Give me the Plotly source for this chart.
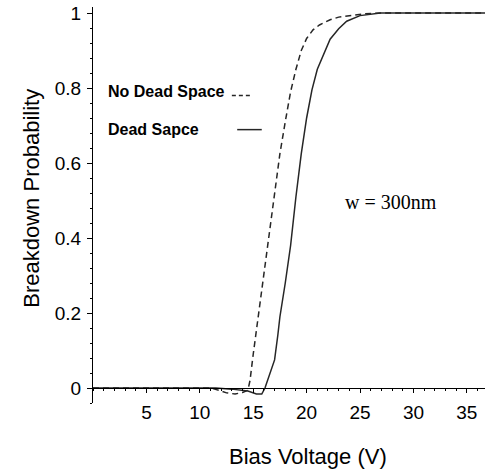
import plotly.graph_objects as go

# Bias voltage (V) and breakdown probability, no dead space (dashed)
v_nodead = [0, 11.0, 11.8, 12.5, 13.3, 14.0, 14.5, 14.7, 15.0, 15.5, 16.0, 16.5, 17.0, 17.5,
            18.0, 18.5, 19.0, 19.5, 20.0, 20.6, 21.2, 22.2, 23.0, 24.0, 25.5, 27.0, 36.7]
p_nodead = [0, 0, -0.006, -0.013, -0.016, -0.012, -0.006, 0.02, 0.09, 0.20, 0.31, 0.42, 0.53, 0.625,
            0.71, 0.79, 0.85, 0.90, 0.932, 0.955, 0.968, 0.982, 0.989, 0.993, 0.998, 1.0, 1.0]

# Breakdown probability with dead space (solid)
v_dead = [0, 11.5, 13.0, 14.5, 15.3, 15.8, 16.1, 16.6, 17.0, 17.3, 17.5, 18.0, 18.5, 19.0, 19.5,
          20.0, 20.5, 21.0, 21.5, 22.2, 23.0, 23.75, 25.0, 26.9, 36.7]
p_dead = [0, 0, -0.003, -0.008, -0.016, -0.016, 0.0, 0.04, 0.075, 0.14, 0.19, 0.28, 0.38, 0.51, 0.625,
          0.72, 0.795, 0.85, 0.885, 0.93, 0.958, 0.978, 0.993, 1.0, 1.0]

x_ticks = [5, 10, 15, 20, 25, 30, 35]
y_ticks = [0, 0.2, 0.4, 0.6, 0.8, 1]
y_tick_labels = ["0", "0.2", "0.4", "0.6", "0.8", "1"]

X_RANGE = [0, 36.7]
Y_RANGE = [-0.04, 1.016]

fig = go.Figure()
fig.add_trace(go.Scatter(x=v_nodead, y=p_nodead, mode="lines", name="No Dead Space",
                         line=dict(color="#262626", width=1.5, dash="6px,4px")))
fig.add_trace(go.Scatter(x=v_dead, y=p_dead, mode="lines", name="Dead Sapce",
                         line=dict(color="#262626", width=1.5)))

zero_pos = (0 - Y_RANGE[0]) / (Y_RANGE[1] - Y_RANGE[0])

fig.update_layout(
    width=485, height=472,
    margin=dict(l=93, r=0, t=7, b=69, autoexpand=False),
    paper_bgcolor="white", plot_bgcolor="white",
    showlegend=False,
    font=dict(family="Arial, Liberation Sans, sans-serif", color="black"),
    xaxis=dict(range=X_RANGE, anchor="free", position=zero_pos,
               tickmode="array", tickvals=x_ticks, ticks="outside", ticklen=4,
               tickcolor="black", showline=True, linecolor="black", linewidth=1,
               showgrid=False, zeroline=False, tickfont=dict(size=19),
               ticklabelstandoff=3,
               minor=dict(dtick=1, tick0=0, ticks="outside", ticklen=2, tickcolor="black")),
    yaxis=dict(range=Y_RANGE, tickmode="array", tickvals=y_ticks, ticktext=y_tick_labels,
               ticks="outside", ticklen=5, tickcolor="black", showline=True,
               linecolor="black", linewidth=1, showgrid=False, zeroline=False,
               tickfont=dict(size=19), ticklabelstandoff=2,
               minor=dict(dtick=0.04, tick0=0, ticks="outside", ticklen=2, tickcolor="black")),
)

# Axis titles
fig.add_annotation(text="Bias Voltage (V)", xref="paper", yref="paper", x=0.548, y=-0.136,
                   showarrow=False, font=dict(size=22), xanchor="center", yanchor="middle")
fig.add_annotation(text="Breakdown Probability", xref="paper", yref="paper", x=-0.156, y=0.518,
                   showarrow=False, font=dict(size=22), textangle=-90,
                   xanchor="center", yanchor="middle")

# Legend (text then line sample)
fig.add_annotation(text="<b>No Dead Space</b>", xref="x", yref="y", x=1.2, y=0.79,
                   showarrow=False, font=dict(size=16), xanchor="left", yanchor="middle")
fig.add_annotation(text="<b>Dead Sapce</b>", xref="x", yref="y", x=1.2, y=0.689,
                   showarrow=False, font=dict(size=16), xanchor="left", yanchor="middle")
fig.add_shape(type="line", xref="x", yref="y", x0=13.0, x1=14.9, y0=0.78, y1=0.78,
              line=dict(color="#262626", width=1.5, dash="4px,3px"))
fig.add_shape(type="line", xref="x", yref="y", x0=13.5, x1=15.8, y0=0.689, y1=0.689,
              line=dict(color="#262626", width=1.5))

# Label
fig.add_annotation(text="w = 300nm", xref="x", yref="y", x=27.9, y=0.497, showarrow=False,
                   font=dict(size=20, family="Times New Roman, Liberation Serif, serif"),
                   xanchor="center", yanchor="middle")

fig.write_html("out.html", config={"displayModeBar": False},
               post_script="document.body.style.margin='0';document.body.style.overflow='hidden';")
